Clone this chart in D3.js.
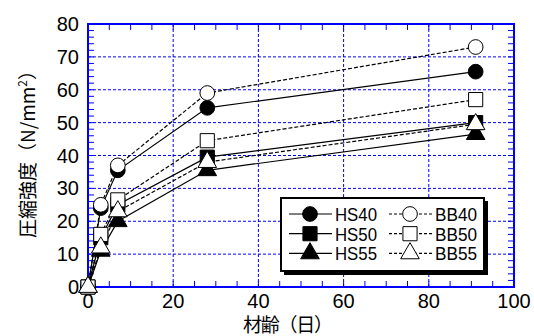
<!DOCTYPE html>
<html>
<head>
<meta charset="utf-8">
<script src="https://cdn.jsdelivr.net/npm/d3@7"></script>
<style>
  body { margin: 0; background: #fff; }
  text { font-family: 'Liberation Sans', Arial, sans-serif; }
</style>
</head>
<body>
<div id="chart"></div>
<script>
// material age (days)
let days = [0, 3, 7, 28, 91]

let hs40 = [0, 24, 35.5, 54.5, 65.5]
let hs50 = [0, 15, 25, 39.5, 50]
let hs55 = [0, 11, 20, 35.5, 46.5]
let bb40 = [0, 25, 37, 59, 73]
let bb50 = [0, 16, 26.5, 44.5, 57]
let bb55 = [0, 12, 23, 38, 49.5]

let seriesNames = ['HS40', 'HS50', 'HS55', 'BB40', 'BB50', 'BB55']
let seriesValues = [hs40, hs50, hs55, bb40, bb50, bb55]
let xTicks = [0, 20, 40, 60, 80, 100]
let yTicks = [0, 10, 20, 30, 40, 50, 60, 70, 80]

let margin = { top: 24, left: 88, right: 20, bottom: 49 }
let width = 534 - margin.left - margin.right
let height = 336 - margin.top - margin.bottom

let svg = d3
  .select('#chart')
  .append('svg')
  .attr('width', 534)
  .attr('height', 336)
  .append('g')
  .attr('transform', 'translate(' + margin.left + ',' + margin.top + ')')

let xScale = d3.scaleLinear().domain([0, 100]).range([0, width])
let yScale = d3.scaleLinear().domain([0, 80]).range([height, 0])

let blue = '#0000ff'

// grid
svg
  .selectAll('.vgrid')
  .data(xTicks.slice(1, -1))
  .enter()
  .append('line')
  .attr('x1', d => xScale(d))
  .attr('x2', d => xScale(d))
  .attr('y1', 0)
  .attr('y2', height)
  .attr('stroke', blue)
  .attr('stroke-width', 1)
  .attr('stroke-dasharray', '3,2')

svg
  .selectAll('.hgrid')
  .data(yTicks.slice(1, -1))
  .enter()
  .append('line')
  .attr('x1', 0)
  .attr('x2', width)
  .attr('y1', d => yScale(d))
  .attr('y2', d => yScale(d))
  .attr('stroke', blue)
  .attr('stroke-width', 1)
  .attr('stroke-dasharray', '3,2')

// minor ticks, all four sides, pointing in
let tl = 6
let xMinor = d3.range(0, 101, 5)
let yMinor = d3.range(0, 81, 2)

let axisG = svg.append('g').attr('stroke', blue).attr('stroke-width', 1)

xMinor.forEach(d => {
  axisG.append('line')
    .attr('x1', xScale(d)).attr('x2', xScale(d))
    .attr('y1', height).attr('y2', height - tl)
  axisG.append('line')
    .attr('x1', xScale(d)).attr('x2', xScale(d))
    .attr('y1', 0).attr('y2', tl)
})
yMinor.forEach(d => {
  axisG.append('line')
    .attr('x1', 0).attr('x2', tl)
    .attr('y1', yScale(d)).attr('y2', yScale(d))
  axisG.append('line')
    .attr('x1', width).attr('x2', width - tl)
    .attr('y1', yScale(d)).attr('y2', yScale(d))
})

svg.append('rect')
  .attr('width', width)
  .attr('height', height)
  .attr('fill', 'none')
  .attr('stroke', blue)
  .attr('stroke-width', 2)

// tick labels
svg
  .selectAll('.xlabel')
  .data(xTicks)
  .enter()
  .append('text')
  .attr('x', d => xScale(d))
  .attr('y', height + 21)
  .attr('text-anchor', 'middle')
  .attr('font-size', 20)
  .text(d => d)

svg
  .selectAll('.ylabel')
  .data(yTicks)
  .enter()
  .append('text')
  .attr('x', -9)
  .attr('y', d => yScale(d) + 7)
  .attr('text-anchor', 'end')
  .attr('font-size', 20)
  .text(d => d)

// axis titles
svg.append('text')
  .attr('x', 155)
  .attr('y', height + 45)
  .attr('font-size', 19)
  .attr('textLength', 90)
  .style('font-family', "'Noto Sans CJK JP', sans-serif")
  .text('材齢（日）')

let yTitle = svg.append('text')
  .attr('transform', 'translate(' + (-53) + ',' + (height / 2 - 6) + ') rotate(-90)')
  .attr('text-anchor', 'middle')
  .attr('font-size', 19)
  .style('font-family', "'Noto Sans CJK JP', sans-serif")
yTitle.append('tspan').text('圧縮強度（N/mm')
yTitle.append('tspan').attr('font-size', 12).attr('dy', -8).text('2')
yTitle.append('tspan').attr('dy', 8).text('）')

// markers
let symbolTypes = [d3.symbolCircle, d3.symbolSquare, d3.symbolTriangle]
let symbolSizes = [170, 200, 150]

function markerPath(i) {
  return d3.symbol().type(symbolTypes[i % 3]).size(symbolSizes[i % 3])()
}

let line = d3.line()
  .x((d, i) => xScale(days[i]))
  .y(d => yScale(d))

seriesValues.forEach((vals, i) => {
  let open = i >= 3
  svg.append('path')
    .datum(vals)
    .attr('d', line)
    .attr('fill', 'none')
    .attr('stroke', '#000')
    .attr('stroke-width', 1.2)
    .attr('stroke-dasharray', open ? '4,2' : null)
})

seriesValues.forEach((vals, i) => {
  let open = i >= 3
  svg.selectAll('.m' + i)
    .data(vals)
    .enter()
    .append('path')
    .attr('d', markerPath(i))
    .attr('transform', (d, j) => 'translate(' + xScale(days[j]) + ',' + yScale(d) + ')')
    .attr('fill', open ? '#fff' : '#000')
    .attr('stroke', '#000')
    .attr('stroke-width', 1)
})

// legend
let legend = svg.append('g').attr('transform', 'translate(' + (281 - margin.left) + ',' + (198 - margin.top) + ')')
legend.append('rect')
  .attr('x', 3).attr('y', 3)
  .attr('width', 204).attr('height', 74)
  .attr('fill', '#000')
legend.append('rect')
  .attr('width', 203).attr('height', 73)
  .attr('fill', '#fff')
  .attr('stroke', '#000')
  .attr('stroke-width', 2)

seriesNames.forEach((name, i) => {
  let open = i >= 3
  let col = open ? 100 : 0
  let row = i % 3
  let g = legend.append('g').attr('transform', 'translate(' + col + ',' + (16 + row * 19.7) + ')')
  g.append('line')
    .attr('x1', 8).attr('x2', 51)
    .attr('stroke', '#000')
    .attr('stroke-width', 1.2)
    .attr('stroke-dasharray', open ? '3,2' : null)
  g.append('path')
    .attr('d', markerPath(i))
    .attr('transform', 'translate(29,0)')
    .attr('fill', open ? '#fff' : '#000')
    .attr('stroke', '#000')
  g.append('text')
    .attr('x', 54)
    .attr('y', 7)
    .attr('font-size', 19)
    .attr('textLength', 42)
    .attr('lengthAdjust', 'spacingAndGlyphs')
    .text(name)
})
</script>
</body>
</html>
